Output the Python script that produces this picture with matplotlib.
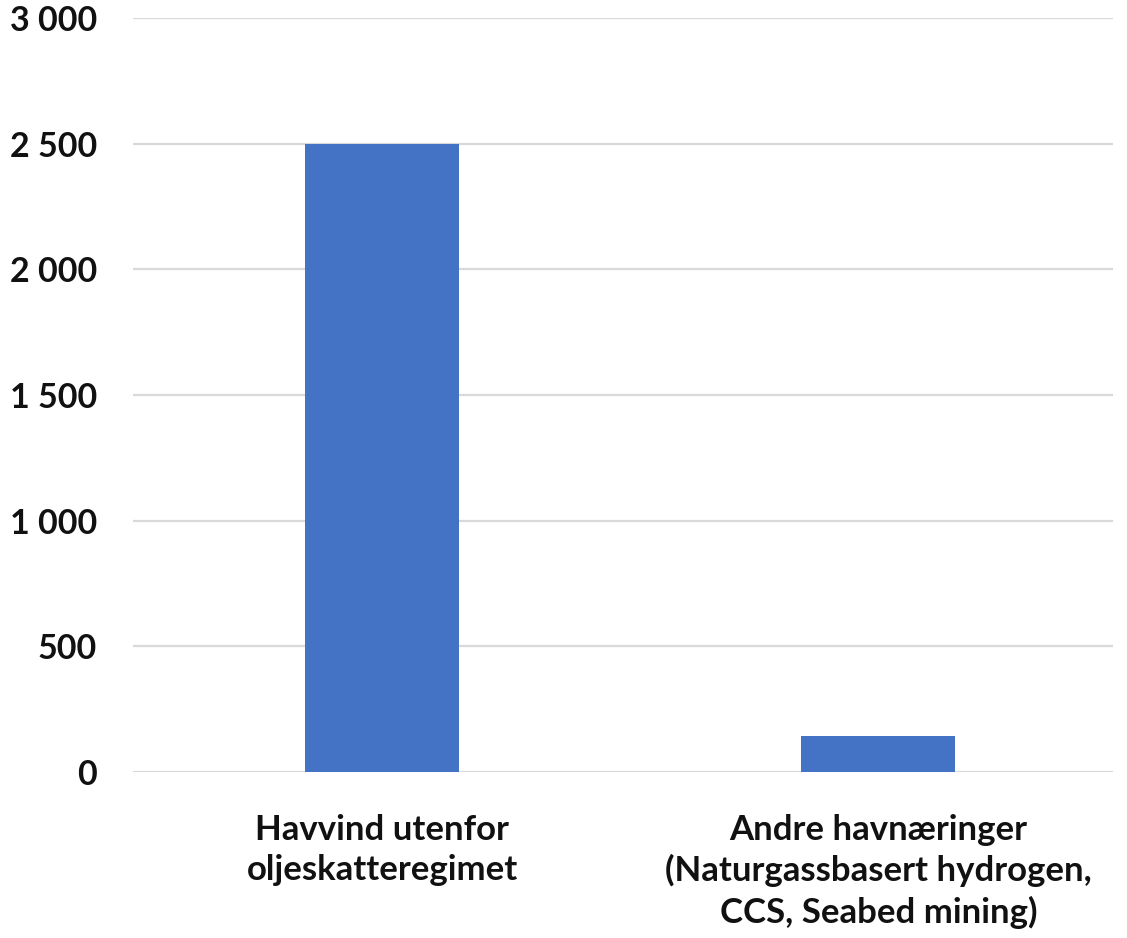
import matplotlib
matplotlib.use('Agg')
import matplotlib.pyplot as plt

# === Data ===
categories = ["Havvind utenfor\noljeskatteregimet",
              "Andre havnæringer\n(Naturgassbasert hydrogen,\nCCS, Seabed mining)"]
values = [2500, 145]
y_ticks = [0, 500, 1000, 1500, 2000, 2500, 3000]

plt.rcParams['font.family'] = ['Lato', 'DejaVu Sans']
plt.rcParams['font.weight'] = 'bold'

fig = plt.figure(figsize=(11.27, 9.38), dpi=100)
ax = fig.add_axes([0.118, 0.177, 0.870, 0.804])

x = range(len(categories))
ax.bar(x, values, width=0.31, color='#4472C4', zorder=3)

ax.set_xlim(-0.502, 1.474)
ax.set_ylim(0, 3000)
ax.set_yticks(y_ticks)
ax.set_yticklabels([f"{v:,}".replace(",", " ") for v in y_ticks])
ax.set_xticks(list(x))
ax.set_xticklabels(categories, linespacing=1.32)

ax.grid(axis='y', color='#d9d9d9', linewidth=1.6, zorder=0)
for s in ax.spines.values():
    s.set_visible(False)
ax.tick_params(axis='both', length=0, colors='#111111')
ax.tick_params(axis='y', pad=26, labelsize=24.5)
ax.tick_params(axis='x', pad=30, labelsize=25)
for lbl in ax.get_xticklabels() + ax.get_yticklabels():
    lbl.set_fontweight('bold')

fig.savefig('out.png', dpi=100)
